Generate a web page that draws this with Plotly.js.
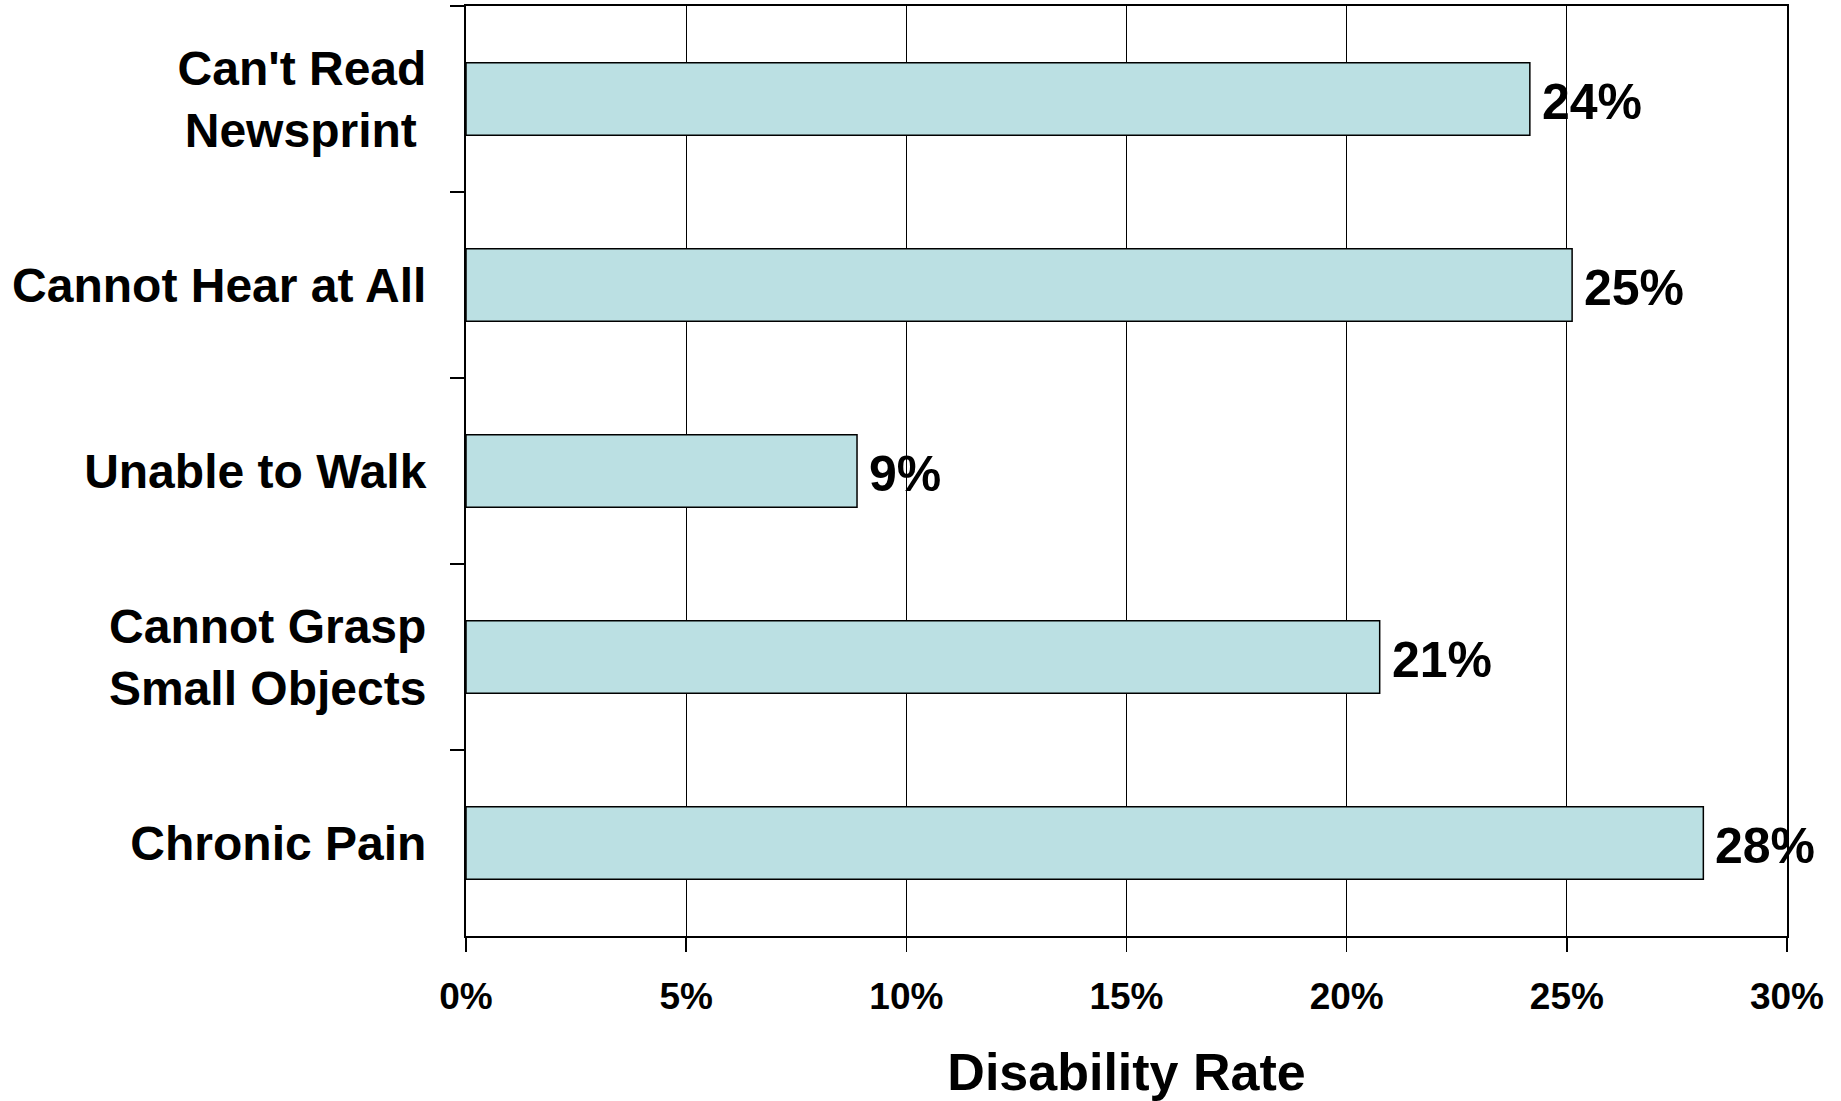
<!DOCTYPE html>
<html>
<head>
<meta charset="utf-8">
<script src="https://cdn.plot.ly/plotly-3.0.1.min.js"></script>
<style>
  html, body { margin: 0; padding: 0; background: #ffffff; }
  #chart { width: 1841px; height: 1101px; }
</style>
</head>
<body>
<div id="chart"></div>
<script>
// Disability rates by type of limitation (fraction of population)
const categories = [
  "Can't Read<br>Newsprint\u2009",
  "Cannot Hear at All",
  "Unable to Walk",
  "Cannot Grasp<br>Small Objects",
  "Chronic Pain"
];
const rates = [0.2416, 0.2512, 0.0888, 0.2075, 0.2810];
const xTickValues = [0, 0.05, 0.10, 0.15, 0.20, 0.25, 0.30];

const fontFamily = "Liberation Sans, Arial, Helvetica, sans-serif";

const barTrace = {
  type: 'bar',
  orientation: 'h',
  y: categories,
  x: rates,
  marker: {
    color: '#BBE0E3',
    line: { color: '#000000', width: 1.5 }
  },
  hoverinfo: 'skip',
  showlegend: false
};

// Value labels placed just past the end of each bar
const valueLabels = categories.map((c, i) => ({
  x: rates[i],
  y: c,
  xref: 'x',
  yref: 'y',
  text: (Math.round(rates[i] * 100)) + '%',
  showarrow: false,
  xanchor: 'left',
  yanchor: 'middle',
  xshift: 10,
  yshift: -3,
  font: { family: fontFamily, size: 50, color: '#000000', weight: 'bold' }
}));

const layout = {
  width: 1841,
  height: 1101,
  margin: { l: 466, r: 54, t: 6, b: 165 },
  paper_bgcolor: '#ffffff',
  plot_bgcolor: '#ffffff',
  bargap: 0.61,
  font: { family: fontFamily, color: '#000000', weight: 'bold' },
  xaxis: {
    range: [0, 0.30],
    tickvals: xTickValues,
    tickformat: '.0%',
    showgrid: true,
    gridcolor: '#000000',
    gridwidth: 1.2,
    zeroline: false,
    showline: true,
    linecolor: '#000000',
    linewidth: 2,
    mirror: true,
    ticks: 'outside',
    ticklen: 14,
    tickwidth: 1.5,
    tickcolor: '#000000',
    ticklabelstandoff: 13,
    tickfont: { family: fontFamily, size: 37, color: '#000000', weight: 'bold' },
    title: {
      text: 'Disability Rate',
      font: { family: fontFamily, size: 52, color: '#000000', weight: 'bold' },
      standoff: 37
    },
    automargin: false,
    fixedrange: true
  },
  yaxis: {
    type: 'category',
    categoryorder: 'array',
    categoryarray: categories,
    autorange: 'reversed',
    tickson: 'boundaries',
    ticks: 'outside',
    ticklen: 14,
    tickwidth: 2,
    tickcolor: '#000000',
    showgrid: false,
    showline: true,
    linecolor: '#000000',
    linewidth: 2,
    mirror: true,
    ticklabelstandoff: 28,
    tickfont: { family: fontFamily, size: 48, color: '#000000', weight: 'bold' },
    automargin: false,
    fixedrange: true
  },
  annotations: valueLabels
};

Plotly.newPlot('chart', [barTrace], layout, { displayModeBar: false, staticPlot: true });
</script>
</body>
</html>
